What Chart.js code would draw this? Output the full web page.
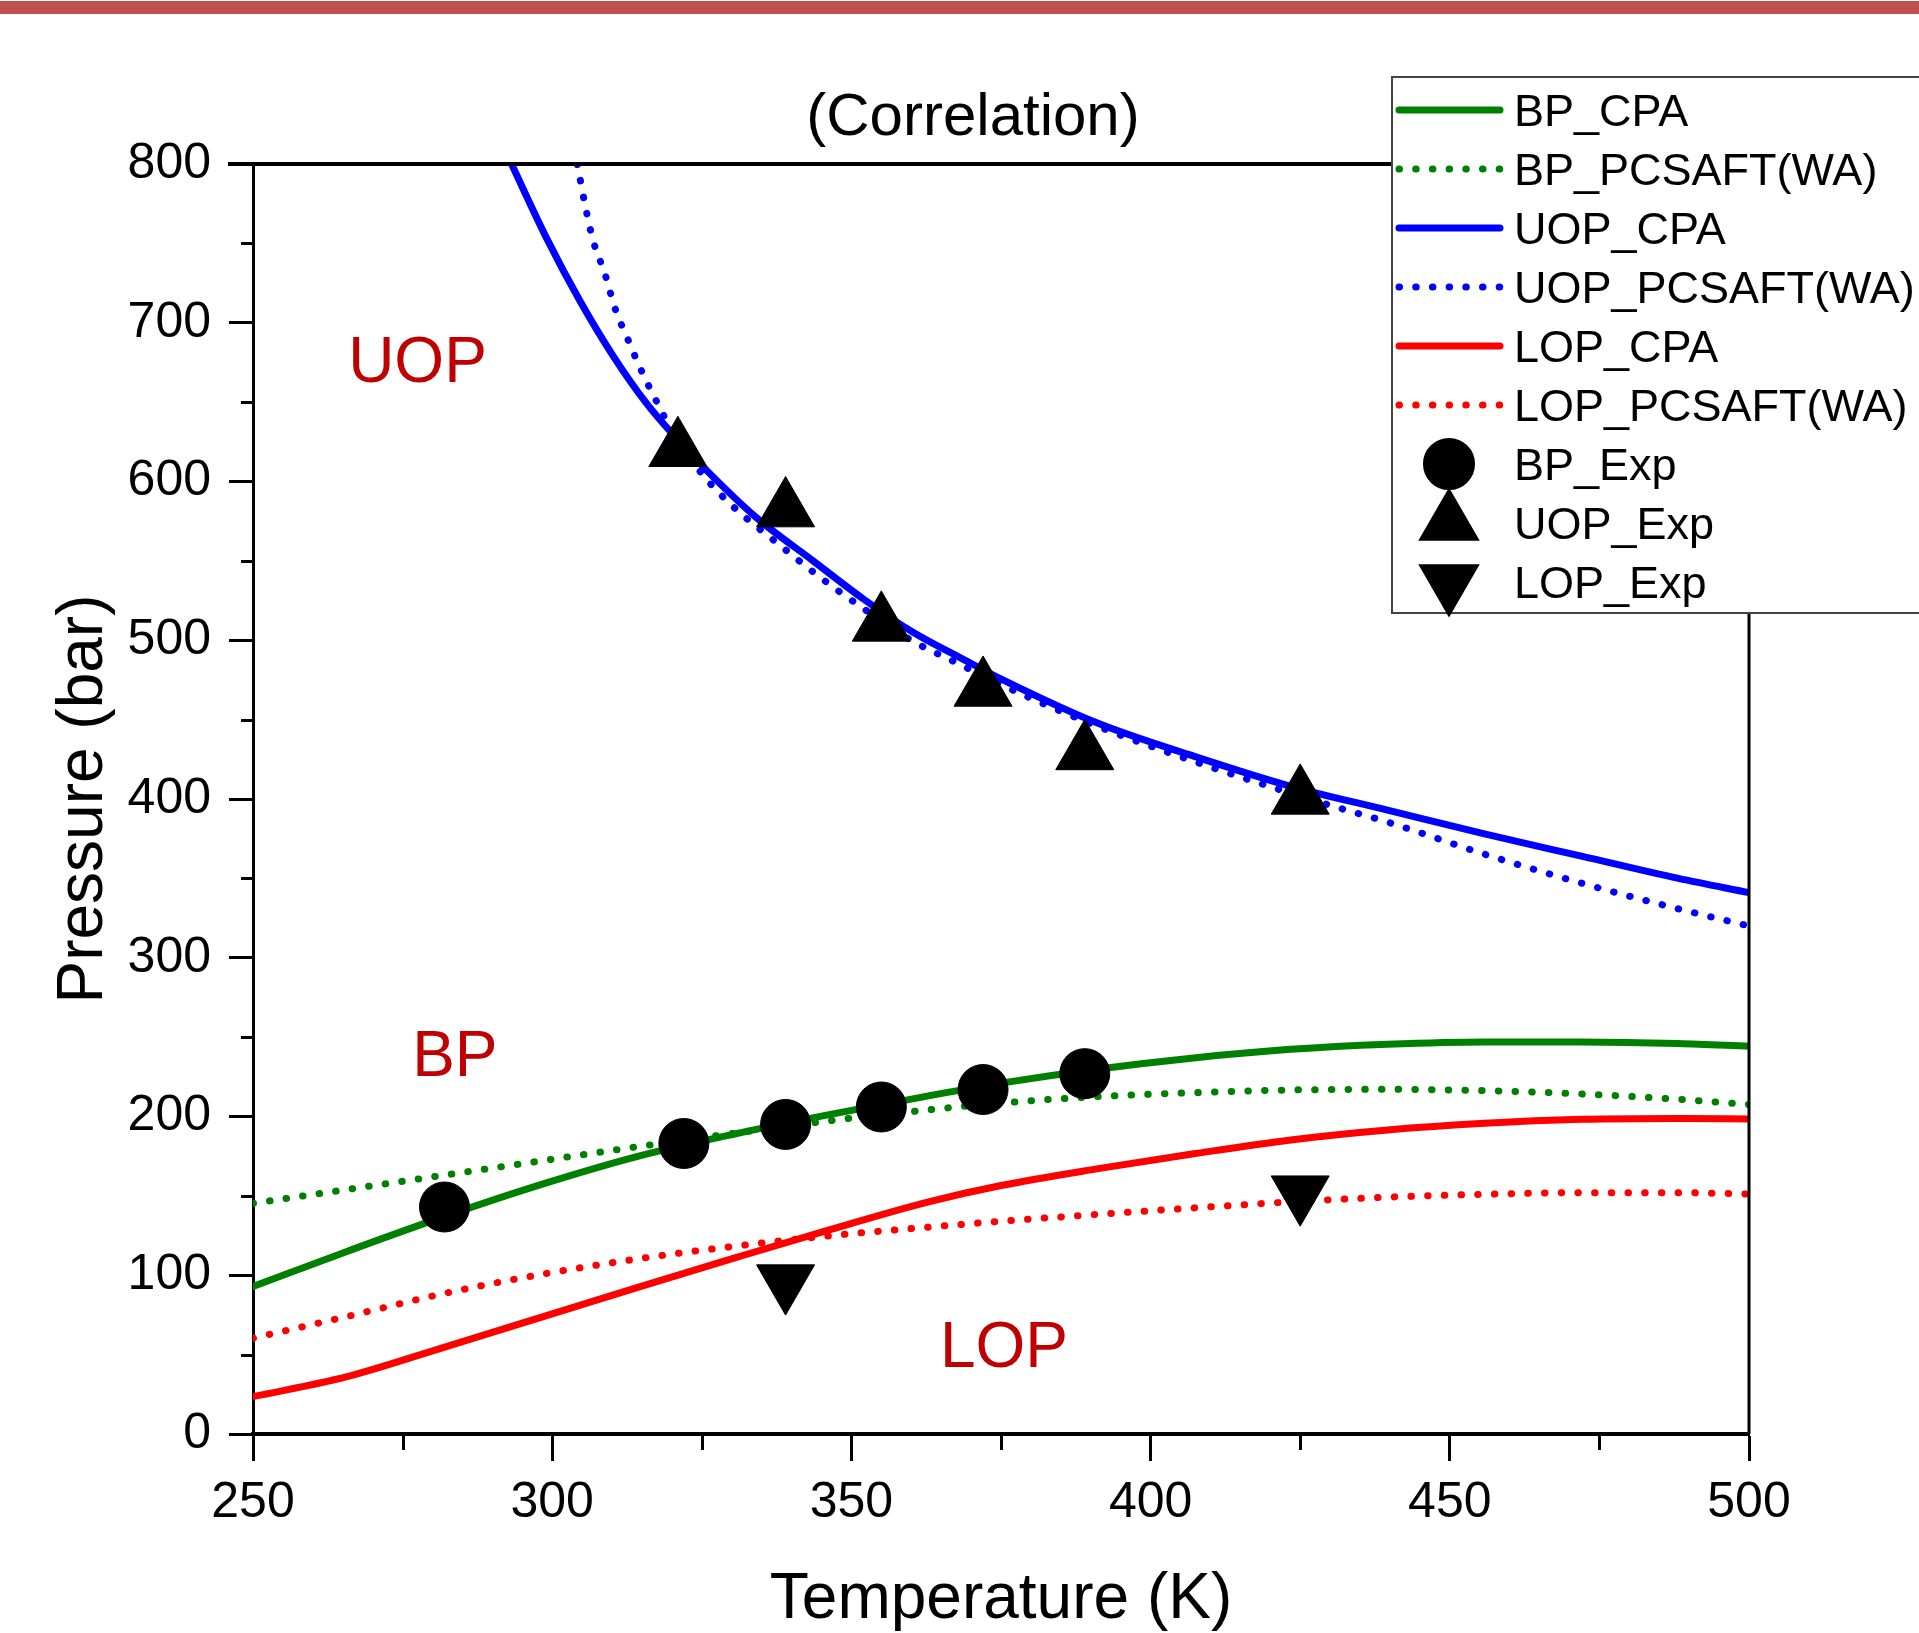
<!DOCTYPE html>
<html>
<head>
<meta charset="utf-8">
<title>(Correlation) - phase boundaries</title>
<script src="https://cdn.jsdelivr.net/npm/chart.js@4.4.1/dist/chart.umd.min.js"></script>
<style>
  html, body { margin: 0; padding: 0; background: #fff; }
  #wrap { width: 1919px; height: 1633px; }
</style>
</head>
<body>
<div id="wrap"><canvas id="chart" width="1919" height="1633"></canvas></div>
<script>
// Temperature grid (K) for the BP / LOP model curves
const gridT = [250, 265.7, 281.9, 298.1, 314.3, 330.5, 346.7, 362.9, 375, 391, 407.2, 423.4, 439.6, 455.8, 472, 488.2, 500];
// Pressures (bar)
const bpCpa   = [93, 115, 136.9, 157.1, 174.9, 189, 201.5, 213, 221, 229.8, 236.9, 242.3, 245.5, 247, 247, 246, 244.2];
const bpSaft  = [145.3, 154, 163, 172, 181, 189.5, 197.5, 204.2, 208.5, 212.5, 215, 216.7, 217.1, 216.3, 214.2, 210.8, 207.5];
const lopCpa  = [23.5, 36.1, 54.6, 73.5, 92.4, 110.9, 129, 146.2, 156.5, 167, 176.5, 185.2, 191.5, 195.7, 198.2, 198.8, 198.4];
const lopSaft = [60.3, 74, 88.5, 100.5, 110.3, 118.3, 125, 130.3, 134, 138.3, 142.4, 146.2, 149.2, 151, 152, 152, 151.2];

// UOP curves leave the top of the plot, so they get their own T lists
const uopCpaT  = [293.2, 299.1, 304.6, 310.2, 315.8, 320.8, 325.8, 334.2, 343.6, 352, 360.3, 368.7, 374.8, 391, 407.2, 423.4, 439.6, 455.8, 472, 488.2, 500];
const uopCpaP  = [800, 753, 714, 679, 649, 627, 607, 577, 550, 526, 505, 488, 476, 448, 427, 408, 393, 378, 364, 350, 341];
const uopSaftT = [304.2, 305.5, 306.9, 308.8, 310.5, 312.7, 315, 317.5, 320, 325, 330, 338, 345, 352, 360, 368, 375, 391, 407, 424, 430, 440, 456, 472, 488, 500];
const uopSaftP = [800, 774, 751, 731, 709, 689, 669, 650, 632, 605, 585, 560, 539, 520, 500, 485, 472, 446, 424, 403, 396, 385, 365, 347, 331, 320];

// Experimental points
const bpExpT  = [282, 322, 339, 355, 372, 389];
const bpExpP  = [143, 183, 195, 206, 217, 227];
const uopExpT = [321, 339, 355, 372, 389, 425];
const uopExpP = [620, 582, 510, 469, 429, 401];
const lopExpT = [339, 425];
const lopExpP = [96, 152];

// Axis ticks
const xTicks = [250, 300, 350, 400, 450, 500];
const xMinor = [275, 325, 375, 425, 475];
const yTicks = [0, 100, 200, 300, 400, 500, 600, 700, 800];
const yMinor = [50, 150, 250, 350, 450, 550, 650, 750];

// Region labels inside the plot (data coordinates of the text baseline start)
const regionNames = ['UOP', 'BP', 'LOP'];
const regionT = [265.9, 276.6, 364.8];
const regionP = [662.7, 225.5, 42.2];

const FONT = '"Liberation Sans", Arial, Helvetica, sans-serif';
const GREEN = '#008000', BLUE = '#0000ff', RED = '#ff0000';
const DOTS = [0.5, 16.2];

const pts = (xs, ys) => xs.map((x, i) => ({ x: x, y: ys[i] }));

function curve(label, xs, ys, color, dotted) {
    return {
        label: label,
        data: pts(xs, ys),
        showLine: true,
        borderColor: color,
        backgroundColor: color,
        borderWidth: 7,
        borderDash: dotted ? DOTS : [],
        borderCapStyle: 'round',
        borderJoinStyle: 'round',
        pointRadius: 0,
        cubicInterpolationMode: 'monotone',
        order: 1
    };
}

function markers(label, xs, ys, style, radius, rotation) {
    return {
        label: label,
        data: pts(xs, ys),
        showLine: false,
        pointStyle: style,
        pointRadius: radius,
        rotation: rotation,
        backgroundColor: '#000',
        borderColor: '#000',
        borderWidth: 1,
        order: 0
    };
}

const datasets = [
    curve('BP_CPA', gridT, bpCpa, GREEN, false),
    curve('BP_PCSAFT(WA)', gridT, bpSaft, GREEN, true),
    curve('UOP_CPA', uopCpaT, uopCpaP, BLUE, false),
    curve('UOP_PCSAFT(WA)', uopSaftT, uopSaftP, BLUE, true),
    curve('LOP_CPA', gridT, lopCpa, RED, false),
    curve('LOP_PCSAFT(WA)', gridT, lopSaft, RED, true),
    markers('BP_Exp', bpExpT, bpExpP, 'circle', 25, 0),
    markers('UOP_Exp', uopExpT, uopExpP, 'triangle', 33.5, 0),
    markers('LOP_Exp', lopExpT, lopExpP, 'triangle', 33.5, 180)
];

// Extra drawing: slide bar, title, region labels, minor ticks, frame, legend
const decorations = {
    id: 'decorations',
    beforeDraw(chart) {
        const ctx = chart.ctx;
        ctx.save();
        ctx.fillStyle = '#c0504d';
        ctx.fillRect(0, 1, chart.width, 13);
        ctx.restore();
    },
    afterDraw(chart) {
        const ctx = chart.ctx;
        const xs = chart.scales.x, ys = chart.scales.y;
        const area = chart.chartArea;
        ctx.save();

        // title
        ctx.fillStyle = '#000';
        ctx.font = '60px ' + FONT;
        ctx.textAlign = 'center';
        ctx.textBaseline = 'alphabetic';
        ctx.fillText('(Correlation)', 973, 135);

        // region labels
        ctx.fillStyle = '#c00000';
        ctx.font = '64px ' + FONT;
        ctx.textAlign = 'left';
        regionNames.forEach((name, i) => {
            ctx.fillText(name, xs.getPixelForValue(regionT[i]), ys.getPixelForValue(regionP[i]));
        });

        // minor ticks
        ctx.strokeStyle = '#000';
        ctx.lineWidth = 3;
        ctx.lineCap = 'butt';
        ctx.beginPath();
        xMinor.forEach(v => {
            const px = Math.round(xs.getPixelForValue(v)) + 0.5;
            ctx.moveTo(px, area.bottom);
            ctx.lineTo(px, area.bottom + 16);
        });
        yMinor.forEach(v => {
            const py = Math.round(ys.getPixelForValue(v)) + 0.5;
            ctx.moveTo(area.left, py);
            ctx.lineTo(area.left - 12, py);
        });
        ctx.stroke();

        // top and right frame
        ctx.lineWidth = 4;
        ctx.beginPath();
        ctx.moveTo(area.left - 25, area.top);
        ctx.lineTo(area.right + 1, area.top);
        ctx.stroke();
        ctx.lineWidth = 3;
        ctx.beginPath();
        ctx.moveTo(area.right, area.top);
        ctx.lineTo(area.right, area.bottom);
        ctx.stroke();

        // legend
        const boxL = 1392, boxT = 77, boxB = 613;
        ctx.fillStyle = '#fff';
        ctx.fillRect(boxL, boxT, chart.width - boxL + 10, boxB - boxT);
        ctx.strokeStyle = '#444';
        ctx.lineWidth = 2;
        ctx.strokeRect(boxL, boxT, chart.width - boxL + 10, boxB - boxT);

        ctx.font = '45px ' + FONT;
        ctx.textAlign = 'left';
        ctx.textBaseline = 'alphabetic';
        chart.data.datasets.forEach((ds, i) => {
            const y = 110 + i * 59;
            if (ds.showLine) {
                ctx.save();
                ctx.strokeStyle = ds.borderColor;
                ctx.lineWidth = ds.borderWidth;
                ctx.lineCap = 'round';
                ctx.setLineDash(ds.borderDash);
                ctx.beginPath();
                ctx.moveTo(1399, y);
                ctx.lineTo(1500, y);
                ctx.stroke();
                ctx.restore();
            } else {
                ctx.fillStyle = '#000';
                ctx.strokeStyle = '#000';
                Chart.helpers.drawPoint(ctx, {
                    pointStyle: ds.pointStyle,
                    radius: ds.pointRadius,
                    rotation: ds.rotation,
                    borderWidth: 1
                }, 1449, y);
            }
            ctx.fillStyle = '#000';
            ctx.fillText(ds.label, 1514, y + 16);
        });
        ctx.restore();
    }
};

Chart.defaults.font.family = FONT;
Chart.defaults.color = '#000';

new Chart(document.getElementById('chart'), {
    type: 'scatter',
    data: { datasets: datasets },
    plugins: [decorations],
    options: {
        responsive: false,
        animation: false,
        events: [],
        layout: { padding: { left: 0, right: 170, top: 164, bottom: 0 } },
        plugins: {
            legend: { display: false },
            tooltip: { enabled: false },
            title: { display: false }
        },
        scales: {
            x: {
                type: 'linear',
                min: 250,
                max: 500,
                afterBuildTicks: s => { s.ticks = xTicks.map(v => ({ value: v })); },
                afterFit: s => { s.height = 199; },
                ticks: { font: { size: 50 }, padding: 12, autoSkip: false, maxRotation: 0 },
                grid: { drawOnChartArea: false, tickLength: 27, tickWidth: 3, tickColor: '#000' },
                border: { color: '#000', width: 4 },
                title: {
                    display: true,
                    text: 'Temperature (K)',
                    font: { size: 64, lineHeight: 1 },
                    padding: { top: 0, bottom: 1 }
                }
            },
            y: {
                type: 'linear',
                min: 0,
                max: 800,
                afterBuildTicks: s => { s.ticks = yTicks.map(v => ({ value: v })); },
                afterFit: s => { s.width = 253; },
                ticks: { font: { size: 50 }, padding: 18, autoSkip: false },
                grid: { drawOnChartArea: false, tickLength: 24, tickWidth: 3, tickColor: '#000' },
                border: { color: '#000', width: 3 },
                title: {
                    display: true,
                    text: 'Pressure (bar)',
                    font: { size: 64, lineHeight: 1 },
                    padding: { top: 52, bottom: 0 }
                }
            }
        }
    }
});
</script>
</body>
</html>
